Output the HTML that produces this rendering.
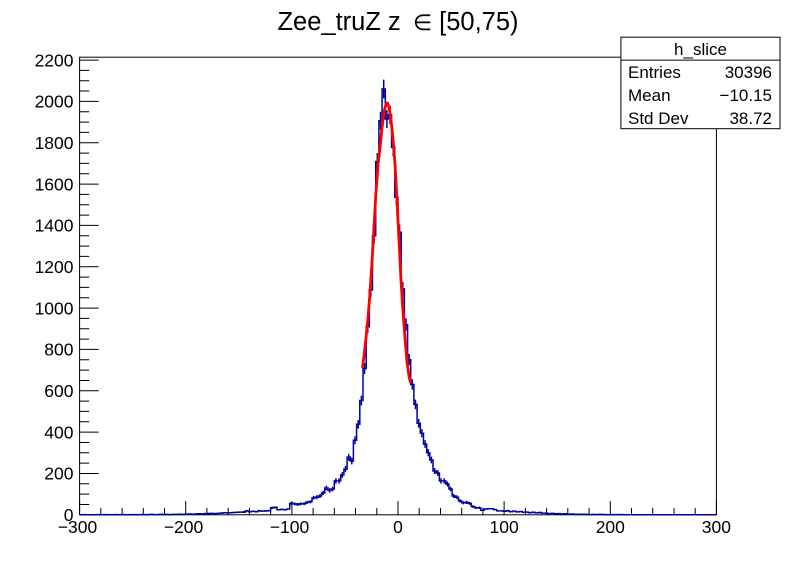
<!DOCTYPE html>
<html><head><meta charset="utf-8"><style>
html,body{margin:0;padding:0;background:#fff;}
svg{display:block;}
text{font-family:"Liberation Sans","DejaVu Sans",sans-serif;fill:#000;}
</style></head><body>
<svg width="796" height="572" viewBox="0 0 796 572" xmlns="http://www.w3.org/2000/svg">
<rect x="0" y="0" width="796" height="572" fill="#fff"/>
<!-- title -->
<text x="398" y="30" font-size="25.5" text-anchor="middle">Zee_truZ z <tspan dx="5" font-family="DejaVu Sans, sans-serif" font-size="22">∈</tspan> [50,75)</text>
<!-- frame -->
<rect x="79.6" y="57.2" width="636.8" height="457.6" fill="none" stroke="#000" stroke-width="1"/>
<!-- y ticks -->
<path fill="none" stroke="#000" stroke-width="1" d="
M79.6,514.8H98.7 M79.6,473.5H98.7 M79.6,432.1H98.7 M79.6,390.8H98.7 M79.6,349.4H98.7 M79.6,308.1H98.7 M79.6,266.8H98.7 M79.6,225.4H98.7 M79.6,184.1H98.7 M79.6,142.7H98.7 M79.6,101.4H98.7 M79.6,60.1H98.7
M79.6,504.5H89.2 M79.6,494.1H89.2 M79.6,483.8H89.2
M79.6,463.1H89.2 M79.6,452.8H89.2 M79.6,442.5H89.2
M79.6,421.8H89.2 M79.6,411.4H89.2 M79.6,401.1H89.2
M79.6,380.5H89.2 M79.6,370.1H89.2 M79.6,359.8H89.2
M79.6,339.1H89.2 M79.6,328.8H89.2 M79.6,318.4H89.2
M79.6,297.8H89.2 M79.6,287.4H89.2 M79.6,277.1H89.2
M79.6,256.4H89.2 M79.6,246.1H89.2 M79.6,235.8H89.2
M79.6,215.1H89.2 M79.6,204.7H89.2 M79.6,194.4H89.2
M79.6,173.7H89.2 M79.6,163.4H89.2 M79.6,153.1H89.2
M79.6,132.4H89.2 M79.6,122.1H89.2 M79.6,111.7H89.2
M79.6,91.0H89.2 M79.6,80.7H89.2 M79.6,70.4H89.2
"/>
<!-- x ticks -->
<path fill="none" stroke="#000" stroke-width="1" d="
M79.6,514.8V501.1 M185.7,514.8V501.1 M291.9,514.8V501.1 M398.0,514.8V501.1 M504.1,514.8V501.1 M610.3,514.8V501.1 M716.4,514.8V501.1
M100.8,514.8V507.9 M122.1,514.8V507.9 M143.3,514.8V507.9 M164.5,514.8V507.9
M206.9,514.8V507.9 M228.2,514.8V507.9 M249.4,514.8V507.9 M270.6,514.8V507.9
M313.1,514.8V507.9 M334.3,514.8V507.9 M355.5,514.8V507.9 M376.8,514.8V507.9
M419.2,514.8V507.9 M440.5,514.8V507.9 M461.7,514.8V507.9 M482.9,514.8V507.9
M525.4,514.8V507.9 M546.6,514.8V507.9 M567.8,514.8V507.9 M589.1,514.8V507.9
M631.5,514.8V507.9 M652.7,514.8V507.9 M674.0,514.8V507.9 M695.2,514.8V507.9
"/>
<!-- y labels -->
<g font-size="17.5" text-anchor="end">
<text x="73.5" y="521">0</text>
<text x="73.5" y="479.7">200</text>
<text x="73.5" y="438.3">400</text>
<text x="73.5" y="397">600</text>
<text x="73.5" y="355.6">800</text>
<text x="73.5" y="314.3">1000</text>
<text x="73.5" y="273">1200</text>
<text x="73.5" y="231.6">1400</text>
<text x="73.5" y="190.3">1600</text>
<text x="73.5" y="148.9">1800</text>
<text x="73.5" y="107.6">2000</text>
<text x="73.5" y="66.3">2200</text>
</g>
<!-- x labels -->
<g font-size="17.5" text-anchor="middle">
<text x="77.5" y="533">−300</text>
<text x="183.5" y="533">−200</text>
<text x="289.5" y="533">−100</text>
<text x="398" y="533">0</text>
<text x="504.1" y="533">100</text>
<text x="610.3" y="533">200</text>
<text x="716.4" y="533">300</text>
</g>
<!-- histogram -->
<path fill="none" stroke="#0000a0" stroke-width="1.5" stroke-linejoin="miter" d="M79.6,514.8 H82.8 V514.6 H86.0 V514.8 H95.5 V514.6 H98.7 V514.8 H105.1 V514.6 H108.3 V514.8 H114.6 V514.6 H117.8 V514.8 H121.0 V514.6 H124.2 V514.8 H130.5 V514.6 H136.9 V514.8 H140.1 V514.6 H146.5 V514.8 H149.6 V514.4 H152.8 V514.6 H159.2 V514.4 H162.4 V514.6 H165.6 V514.4 H168.8 V514.6 H171.9 V514.4 H178.3 V514.2 H181.5 V514.4 H184.7 V514.2 H187.9 V514.0 H191.0 V514.2 H194.2 V514.0 H197.4 V513.8 H200.6 V514.0 H203.8 V513.6 H207.0 V513.8 H210.1 V513.4 H213.3 V513.6 H216.5 V513.4 H219.7 V513.1 H222.9 V512.7 H226.1 V512.9 H229.2 V512.7 H232.4 V512.5 H235.6 V512.3 H238.8 V512.1 H242.0 V512.3 H245.2 V510.9 H248.4 V511.9 H251.5 V511.3 H254.7 V511.7 H257.9 V510.7 H261.1 V511.1 H264.3 V510.9 H267.5 V510.7 H270.6 V507.8 H273.8 V507.4 H277.0 V509.8 H280.2 V509.4 H283.4 V509.8 H286.6 V509.0 H289.7 V503.4 H292.9 V503.8 H296.1 V504.5 H299.3 V503.8 H305.7 V502.4 H308.8 V501.8 H312.0 V497.9 H315.2 V497.2 H318.4 V496.0 H321.6 V492.9 H324.8 V487.9 H328.0 V490.4 H331.1 V489.0 H334.3 V480.9 H340.7 V474.9 H343.9 V469.1 H347.1 V457.1 H350.2 V461.1 H353.4 V440.2 H356.6 V424.3 H359.8 V400.5 H363.0 V368.5 H366.2 V326.7 H369.3 V289.9 H372.5 V235.8 H375.7 V161.6 H378.9 V120.8 H382.1 V89.0 H385.3 V119.0 H388.4 V114.8 H391.6 V147.5 H394.8 V197.3 H398.0 V232.2 H401.2 V288.9 H404.4 V324.6 H407.6 V359.6 H410.7 V384.4 H413.9 V404.4 H417.1 V423.2 H420.3 V433.2 H423.5 V444.1 H426.7 V452.8 H429.8 V460.0 H433.0 V471.0 H436.2 V473.0 H439.4 V480.9 H445.8 V484.0 H448.9 V489.0 H452.1 V496.0 H455.3 V497.2 H458.5 V500.9 H461.7 V502.8 H464.9 V502.4 H468.0 V503.4 H471.2 V506.5 H474.4 V507.8 H480.8 V510.3 H484.0 V509.0 H487.2 V508.8 H493.5 V509.6 H496.7 V510.9 H503.1 V511.3 H506.3 V510.7 H509.4 V511.7 H512.6 V511.1 H515.8 V511.9 H519.0 V511.5 H522.2 V512.3 H525.4 V512.1 H528.5 V512.7 H531.7 V512.3 H534.9 V512.9 H538.1 V512.5 H541.3 V513.1 H547.6 V513.6 H550.8 V513.4 H554.0 V513.8 H557.2 V513.6 H560.4 V514.0 H563.6 V513.8 H566.7 V514.2 H569.9 V514.0 H573.1 V514.2 H576.3 V514.4 H579.5 V514.2 H582.7 V514.4 H589.0 V514.6 H592.2 V514.4 H595.4 V514.6 H598.6 V514.4 H601.8 V514.6 H608.1 V514.8 H611.3 V514.6 H617.7 V514.8 H620.9 V514.6 H624.1 V514.8 H716.4"/>
<!-- error bars -->
<path fill="none" stroke="#0000a0" stroke-width="1.5" d="
M272.2,506.6V509.0 M275.4,506.2V508.6 M291.3,501.9V504.9 M294.5,502.3V505.3 M297.7,503.0V506.0 M300.9,502.3V505.3 M304.1,502.3V505.3 M307.3,500.8V504.0 M310.4,500.2V503.4 M313.6,496.0V499.8 M316.8,495.3V499.1 M320.0,494.0V498.0 M323.2,490.8V495.0 M326.4,485.5V490.3 M329.6,488.2V492.7 M332.7,486.7V491.3 M335.9,478.3V483.6 M339.1,478.3V483.6 M342.3,472.0V477.8 M345.5,466.0V472.2 M348.7,453.7V460.6 M351.8,457.8V464.4 M355.0,436.3V444.1 M358.2,420.0V428.6 M361.4,395.6V405.4 M364.6,363.0V374.0 M367.8,320.5V333.0 M370.9,283.1V296.7 M374.1,228.2V243.4 M377.3,153.1V170.1 M380.5,111.8V129.8 M383.7,79.6V98.4 M386.9,110.0V128.1 M390.0,105.7V123.9 M393.2,138.8V156.2 M396.4,189.2V205.4 M399.6,224.6V239.8 M402.8,282.1V295.7 M406.0,318.3V330.9 M409.2,353.9V365.3 M412.3,379.2V389.6 M415.5,399.6V409.2 M418.7,418.9V427.6 M421.9,429.1V437.3 M425.1,440.3V447.9 M428.3,449.2V456.4 M431.4,456.6V463.4 M434.6,468.0V474.0 M437.8,470.1V475.9 M441.0,478.3V483.6 M444.2,478.3V483.6 M447.4,481.5V486.5 M450.5,486.7V491.3 M453.7,494.0V498.0 M456.9,495.3V499.1 M460.1,499.2V502.6 M463.3,501.2V504.4 M466.5,500.8V504.0 M469.6,501.9V504.9 M472.8,505.2V507.8 M476.0,506.6V509.0 M479.2,506.6V509.0
M243.6,511.0V513.0 M246.8,510.0V511.8 M259.5,509.7V511.7 M266.0,510.0V511.8 M101.0,513.8V515.5 M143.0,513.8V515.5 M208.0,512.5V514.5 M508.0,509.8V511.6 M540.0,511.8V513.4 M586.0,513.6V515.2 M604.0,513.8V515.4 M620.0,513.8V515.4
"/>
<!-- fit -->
<path fill="none" stroke="#ff0000" stroke-width="2.8" stroke-linejoin="round" d="M362.5,368 L364,356 L366,338 L368,318 L370,293 L372,262 L374,226 L376,192 L378,165 L380,148 L382,128 L384,112 L386,104 L387.5,103 L389,107 L391,120 L393,139 L395,164 L397,200 L399,240 L401,280 L403,312 L405,338 L407,362 L409,376 L410.5,383"/>
<!-- stats box -->
<rect x="620.9" y="37.2" width="159.1" height="91.5" fill="#fff" stroke="#000" stroke-width="1"/>
<line x1="620.9" y1="60.1" x2="780" y2="60.1" stroke="#000" stroke-width="1"/>
<g font-size="17">
<text x="700.5" y="55" text-anchor="middle">h_slice</text>
<text x="628" y="78">Entries</text>
<text x="772" y="78" text-anchor="end">30396</text>
<text x="628" y="101">Mean</text>
<text x="772" y="101" text-anchor="end">−10.15</text>
<text x="628" y="124">Std Dev</text>
<text x="772" y="124" text-anchor="end">38.72</text>
</g>
</svg>
</body></html>
